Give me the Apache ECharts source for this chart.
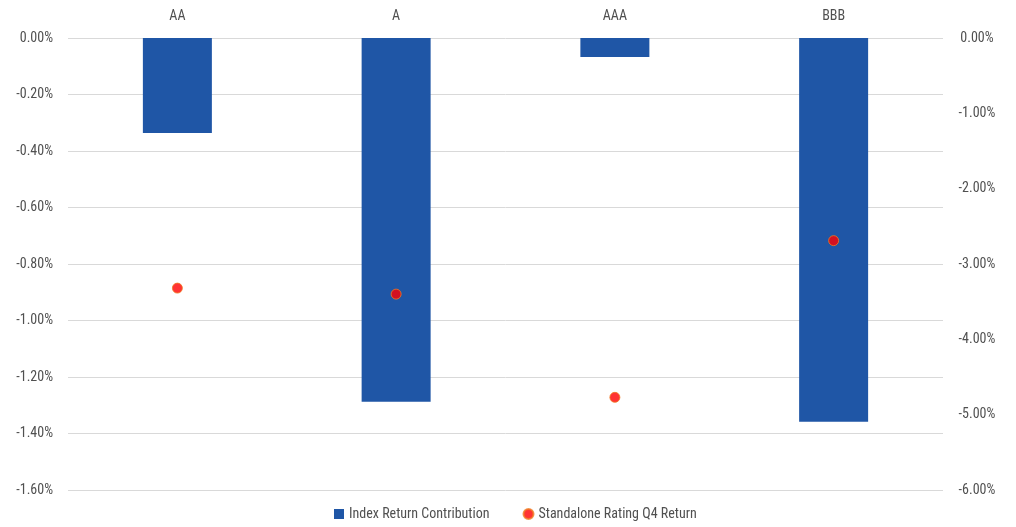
<!DOCTYPE html>
<html>
<head>
<meta charset="utf-8">
<script src="https://cdn.jsdelivr.net/npm/echarts@6/dist/echarts.min.js"></script>
<style>
  html, body { margin: 0; padding: 0; background: #fff; }
  #chart { width: 1016px; height: 527px; }
</style>
</head>
<body>
<div id="chart"></div>
<script>
// Credit ratings shown along the top axis
const ratings = ['AA', 'A', 'AAA', 'BBB'];
// Contribution of each rating bucket to the index return (%)
const indexContribution = [-0.336, -1.288, -0.067, -1.358];
// Standalone Q4 return of each rating bucket (%)
const standaloneReturn = [-3.32, -3.40, -4.77, -2.69];

const leftTicks = { min: -1.6, max: 0, interval: 0.2 };
const rightTicks = { min: -6, max: 0, interval: 1 };

const FONT = '"Liberation Sans Narrow", "Roboto Condensed", "Arial Narrow", Roboto, sans-serif';
const TEXT = '#505050';

const chart = echarts.init(document.getElementById('chart'));
chart.setOption({
  animation: false,
  textStyle: { fontFamily: FONT },
  grid: { left: 68, right: 73, top: 38, bottom: 37 },
  legend: {
    bottom: 1,
    left: 329,
    itemGap: 33,
    itemWidth: 10,
    itemHeight: 10,
    textStyle: { fontFamily: FONT, fontSize: 14, color: TEXT },
    data: [
      { name: 'Index Return Contribution', icon: 'rect' },
      { name: 'Standalone Rating Q4 Return', icon: 'circle' }
    ]
  },
  xAxis: {
    type: 'category',
    position: 'top',
    data: ratings,
    axisLine: { show: false },
    axisTick: { show: false },
    axisLabel: { fontFamily: FONT, fontSize: 14, color: TEXT, margin: 15 }
  },
  yAxis: [
    {
      type: 'value',
      ...leftTicks,
      position: 'left',
      axisLine: { show: false },
      axisTick: { show: false },
      splitLine: { lineStyle: { color: '#d9d9d9', width: 1 } },
      axisLabel: {
        fontFamily: FONT, fontSize: 14, color: TEXT, margin: 15,
        formatter: v => v.toFixed(2) + '%'
      }
    },
    {
      type: 'value',
      ...rightTicks,
      position: 'right',
      axisLine: { show: false },
      axisTick: { show: false },
      splitLine: { show: false },
      axisLabel: {
        fontFamily: FONT, fontSize: 14, color: TEXT, margin: 34, align: 'center',
        formatter: v => v.toFixed(2) + '%'
      }
    }
  ],
  series: [
    {
      name: 'Index Return Contribution',
      type: 'bar',
      yAxisIndex: 0,
      data: indexContribution,
      barWidth: 69,
      itemStyle: { color: '#1f56a6' }
    },
    {
      name: 'Standalone Rating Q4 Return',
      type: 'scatter',
      yAxisIndex: 1,
      data: standaloneReturn,
      symbol: 'circle',
      symbolSize: 10,
      itemStyle: { color: '#ff0000', borderColor: '#f07a20', borderWidth: 1 }
    }
  ]
});
</script>
</body>
</html>
